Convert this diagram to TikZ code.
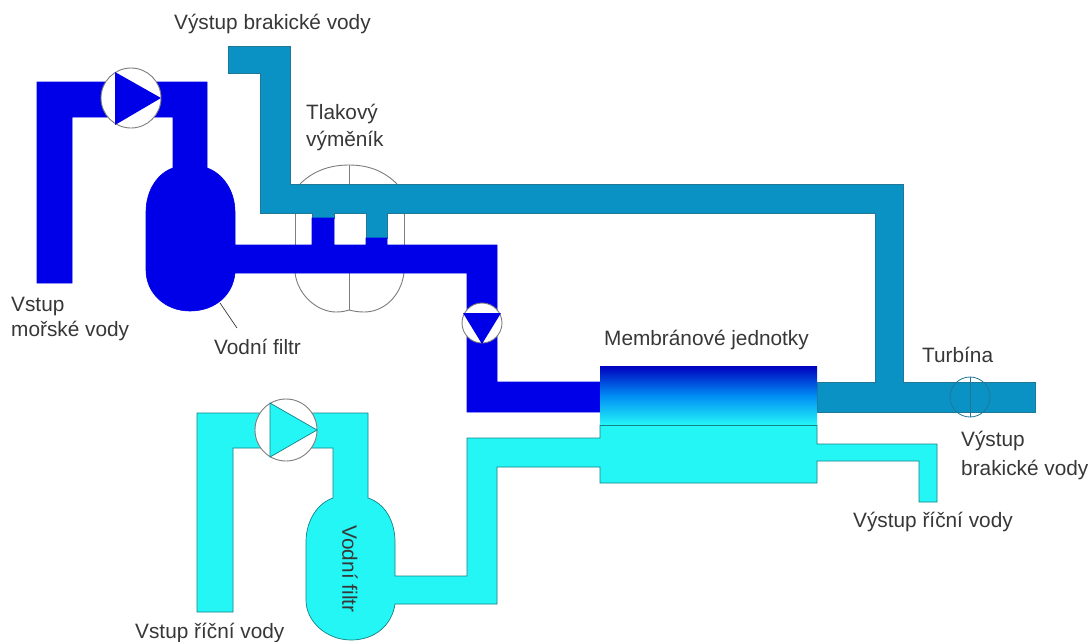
\documentclass[tikz,border=0pt]{standalone}
\usepackage{fontspec}
\setmainfont{Liberation Sans}
\definecolor{seablue}{RGB}{0,0,232}
\definecolor{brack}{RGB}{10,146,196}
\definecolor{brackline}{RGB}{30,120,150}
\definecolor{river}{RGB}{36,246,246}
\definecolor{riverline}{RGB}{20,130,135}
\definecolor{memtop}{RGB}{0,0,190}
\definecolor{memmid}{RGB}{0,140,245}
\definecolor{ink}{RGB}{55,55,55}
\definecolor{ring}{RGB}{125,125,125}
\tikzset{
  sea/.style={fill=seablue,draw=seablue,line width=0.6pt,line join=miter},
  brackpipe/.style={fill=brack,draw=brackline,line width=0.7pt},
  riverpipe/.style={fill=river,draw=riverline,line width=0.7pt},
  ringline/.style={draw=ring,line width=0.9pt},
  lbl/.style={text=ink,font=\fontsize{20.8}{24}\selectfont,inner sep=0pt,anchor=base west},
}
\begin{document}
\begin{tikzpicture}[x=1pt,y=-1pt]
\useasboundingbox (0,0) rectangle (1090,641);
\fill[white] (0,0) rectangle (1090,641);
% pressure exchanger outline
\draw[ringline] (295,245) -- (295,213);
\draw[ringline] (404,245) -- (404,213);
\draw[ringline] (300,184) .. controls (312,172) and (328,165) .. (349,165) .. controls (370,165) and (385,172) .. (397,184);
\draw[ringline] (349,165) -- (349,184);
\draw[ringline] (295,273) .. controls (298,296) and (318,312) .. (336,312) .. controls (342,312) and (346,311) .. (349,310) .. controls (353,311) and (358,312) .. (364,312) .. controls (384,312) and (401,296) .. (404,273);
\draw[ringline] (349,273) -- (349,310);
% brackish water pipe
\draw[brackpipe] (228,46) -- (290,46) -- (290,184) -- (903,184) -- (903,382) -- (1035,382) -- (1035,412) -- (817,412) -- (817,382) -- (875,382) -- (875,213) -- (387,213) -- (387,238) -- (366,238) -- (366,213) -- (334,213) -- (334,218) -- (312,218) -- (312,213) -- (260,213) -- (260,73) -- (228,73) -- cycle;
% sea water pipe
\path[sea] (37,283) -- (37,82) -- (207,82) -- (207,168) .. controls (222,173) and (235,190) .. (235,212) -- (235,245) -- (312,245) -- (312,218) -- (334,218) -- (334,245) -- (366,245) -- (366,238) -- (387,238) -- (387,245) -- (497,245) -- (497,382) -- (600,382) -- (600,412) -- (467,412) -- (467,273) -- (235,273) .. controls (233,295) and (215,311) .. (190,311) .. controls (165,311) and (146,293) .. (146,270) -- (146,212) .. controls (146,190) and (158,173) .. (173,168) -- (173,117) -- (72,117) -- (72,283) -- cycle;
% river water pipe
\draw[riverpipe] (197,612) -- (197,413) -- (368,413) -- (368,498) .. controls (384,503) and (395,520) .. (395,542) -- (395,576) -- (467,576) -- (467,438) -- (600,438) -- (600,425) -- (817,425) -- (817,444) -- (937,444) -- (937,502) -- (919,502) -- (919,461) -- (817,461) -- (817,483) -- (600,483) -- (600,467) -- (497,467) -- (497,604) -- (395,604) .. controls (392,625) and (375,640) .. (351,640) .. controls (327,640) and (306,622) .. (306,600) -- (306,542) .. controls (306,520) and (318,503) .. (333,498) -- (333,448) -- (233,448) -- (233,612) -- cycle;
% membrane units
\fill[top color=memtop,bottom color=river,middle color=memmid] (600,366) rectangle (817,425);
\draw[riverline,line width=0.8pt] (600,425) -- (817,425);
% pumps
\node[circle,fill=white,draw=ring,line width=0.9pt,minimum size=60pt,inner sep=0pt] (pumpa) at (131,98) {};
\fill[seablue] (115,72) -- (161,98) -- (115,125) -- cycle;
\node[circle,fill=white,draw=ring,line width=0.9pt,minimum size=40pt,inner sep=0pt] (pumpb) at (482,323) {};
\fill[seablue] (463,313) -- (501,313) -- (482,344) -- cycle;
\node[circle,fill=white,draw=ring,line width=0.9pt,minimum size=62pt,inner sep=0pt] (pumpc) at (286,430) {};
\draw[riverpipe] (270,403) -- (317,430) -- (270,457) -- cycle;
% turbine
\node[circle,draw=brackline,line width=0.8pt,minimum size=40pt,inner sep=0pt] (turb) at (970,397) {};
\draw[brackline,line width=0.8pt] (turb.north) -- (turb.south);
% labels
\node[lbl] (l1) at (174,29) {Výstup brakické vody};
\node[lbl] (l2) at (306,119) {Tlakový};
\node[lbl] (l3) at (306,146) {výměník};
\node[lbl] (l4) at (11,311) {Vstup};
\node[lbl] (l5) at (11,336) {mořské vody};
\node[lbl] (l6) at (214,354) {Vodní filtr};
\node[lbl] (l7) at (604,345) {Membránové jednotky};
\node[lbl] (l8) at (922,362) {Turbína};
\node[lbl] (l9) at (961,446) {Výstup};
\node[lbl] (l10) at (961,475) {brakické vody};
\node[lbl] (l11) at (853,527) {Výstup říční vody};
\node[lbl] (l12) at (135,638) {Vstup říční vody};
\node[lbl,anchor=center,rotate=-90] (l13) at (350,569) {Vodní filtr};
\coordinate (fa) at (220,303);
\coordinate (fb) at (237,328);
\draw[ink,line width=0.7pt] (fa) -- (fb);
\end{tikzpicture}
\end{document}
